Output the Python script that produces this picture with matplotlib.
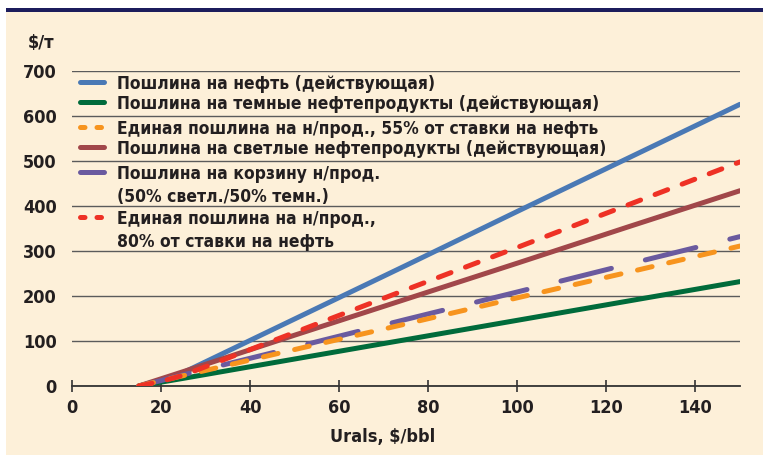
"""Export duty vs Urals price: crude oil and oil products."""

import matplotlib.pyplot as plt
from matplotlib.lines import Line2D
from matplotlib.patches import Rectangle

W, H = 763, 455
BG = "#fdf0d9"
NAVY = "#1c1c5c"
TXT = "#231f20"

urals = [15, 20, 25, 50, 75, 100, 125, 150]
duty_oil = [0, 13, 30, 149, 268, 388, 507, 626]
duty_dark = [0, 8.6, 17, 60, 103, 146, 189, 232]
duty_single_55 = [0, 11.5, 23, 81, 138, 196, 253, 311]
duty_light = [0, 16, 32, 113, 193, 273, 354, 434]
duty_basket = [0, 12, 25, 86, 148, 209, 271, 332]
duty_single_80 = [0, 10, 24, 119, 214, 308, 403, 498]

labels = [
    "Пошлина на нефть (действующая)",
    "Пошлина на темные нефтепродукты (действующая)",
    "Единая пошлина на н/прод., 55% от ставки на нефть",
    "Пошлина на светлые нефтепродукты (действующая)",
    "Пошлина на корзину н/прод.\n(50% светл./50% темн.)",
    "Единая пошлина на н/прод.,\n80% от ставки на нефть",
]
colors = ["#4a79b5", "#006b3b", "#f7941e", "#a1474a", "#6a5a9f", "#ee3125"]
series = [duty_oil, duty_dark, duty_single_55, duty_light, duty_basket, duty_single_80]
dashes = [None, None, (3.0, 3.4), None, (10.4, 7.0), (2.7, 3.1)]
zorders = [3, 4, 6, 3.5, 5, 7]

y_ticks = list(range(0, 701, 100))
x_ticks = list(range(0, 141, 20))

FONT = dict(family="DejaVu Sans", stretch="condensed", weight="bold", color=TXT)

fig = plt.figure(figsize=(W / 100, H / 100), dpi=100, facecolor="white")

# page background and top rule
fig.patches.append(Rectangle((6 / W, 0), 1, 1 - 12 / H, transform=fig.transFigure,
                             facecolor=BG, edgecolor="none", zorder=-10))
fig.patches.append(Rectangle((6 / W, 1 - 12 / H), 1, 4 / H, transform=fig.transFigure,
                             facecolor=NAVY, edgecolor="none", zorder=-10))

ax = fig.add_axes([72 / W, 1 - 386 / H, (740 - 72) / W, (386 - 71) / H])
ax.set_facecolor("none")
lw = 3.6
for vals, col, dsh, z in zip(series, colors, dashes, zorders):
    kw = dict(color=col, linewidth=lw, solid_capstyle="round",
              dash_capstyle="round", zorder=z)
    if dsh:
        kw["dashes"] = dsh
    ax.plot(urals, vals, **kw)

ax.set_xlim(0, 150)
ax.set_ylim(0, 700)
ax.set_xticks(x_ticks)
ax.set_yticks(y_ticks)
for s in ["left", "right", "top"]:
    ax.spines[s].set_visible(False)
ax.spines["bottom"].set_color("#333333")
ax.spines["bottom"].set_linewidth(1.3)
ax.grid(axis="y", color="#5b5b5b", linewidth=1.0)
ax.set_axisbelow(True)
ax.tick_params(axis="x", direction="inout", length=9, width=1.2, color="#333333",
               pad=5)
ax.tick_params(axis="y", length=0, pad=11)
for lab in ax.get_xticklabels() + ax.get_yticklabels():
    lab.set(**FONT, fontsize=13)

fig.text(28 / W, 1 - 43 / H, "$/т", ha="left", va="center", fontsize=13, **FONT)
fig.text(383 / W, 1 - 437 / H, "Urals, $/bbl", ha="center", va="center",
         fontsize=13, **FONT)

# legend drawn by hand so the sample sits on the first text line
rows = [82, 102, 127, 147, 172, 217]
leg_dashes = [None, None, (0.9, 2.4), None, None, (0.9, 2.4)]
for lab, col, dsh, y in zip(labels, colors, leg_dashes, rows):
    yf = 1 - y / H
    kw = dict(color=col, linewidth=lw, solid_capstyle="round",
              dash_capstyle="round", transform=fig.transFigure)
    if dsh:
        kw["dashes"] = dsh
    fig.add_artist(Line2D([80 / W, 104 / W], [yf, yf], **kw))
    fig.text(117 / W, yf + 7 / H, lab, ha="left", va="top", fontsize=12.5,
             linespacing=1.35, **FONT)

fig.savefig("out.png", dpi=100, facecolor=fig.get_facecolor())
